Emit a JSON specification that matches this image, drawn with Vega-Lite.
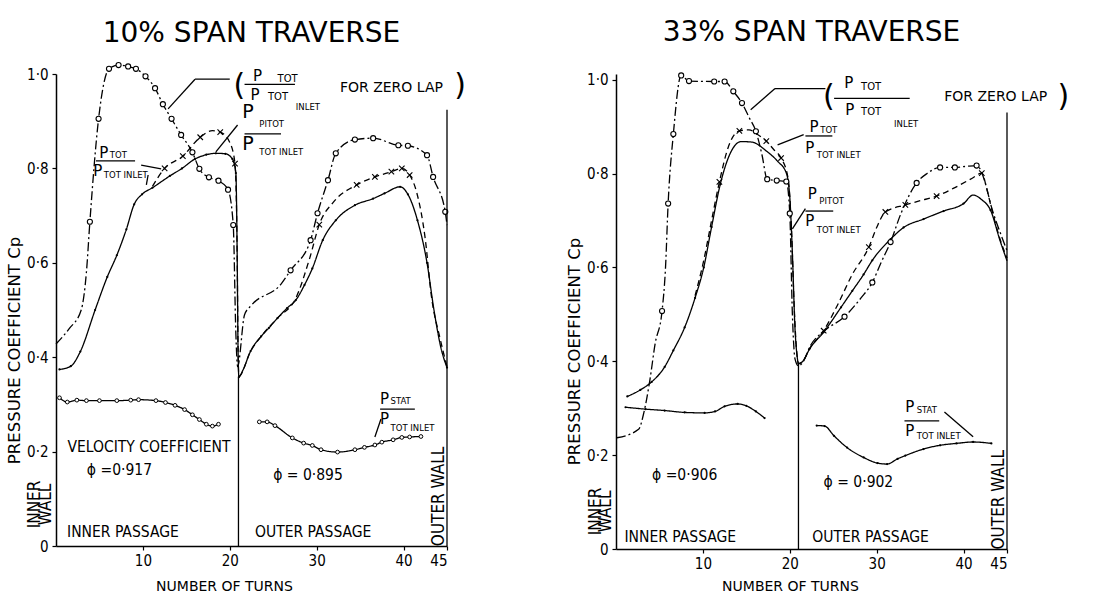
{
  "$schema": "https://vega.github.io/schema/vega-lite/v6.json",
  "background": "white",
  "padding": {"left": 6, "top": 18, "right": 5, "bottom": 5},
  "config": {
    "view": {"stroke": null},
    "font": "DejaVu Sans",
    "axis": {"domainColor": "black", "domainWidth": 1.5, "tickColor": "black", "tickWidth": 1.2, "tickSize": 4, "grid": false, "labelColor": "black", "labelFontSize": 15, "titleColor": "black", "titleFontWeight": "normal", "labelFont": "DejaVu Sans Condensed, DejaVu Sans", "titleFont": "DejaVu Sans"},
    "axisX": {"titleFontSize": 14},
    "axisY": {"titleFontSize": 16.5},
    "title": {"fontSize": 28, "fontWeight": "normal", "color": "black", "font": "DejaVu Sans"}
  },
  "datasets": {
    "curves": [
      {"p":"L","s":"zero","g":"zero","x":0,"y":0.428,"o":0},
      {"p":"L","s":"zero","g":"zero","x":1.5,"y":0.46,"o":0},
      {"p":"L","s":"zero","g":"zero","x":2.9,"y":0.5,"o":0},
      {"p":"L","s":"zero","g":"zero","x":3.5,"y":0.58,"o":0},
      {"p":"L","s":"zero","g":"zero","x":3.9,"y":0.687,"o":1},
      {"p":"L","s":"zero","g":"zero","x":4.9,"y":0.905,"o":1},
      {"p":"L","s":"zero","g":"zero","x":6.1,"y":1.011,"o":1},
      {"p":"L","s":"zero","g":"zero","x":7.2,"y":1.019,"o":1},
      {"p":"L","s":"zero","g":"zero","x":8.3,"y":1.016,"o":1},
      {"p":"L","s":"zero","g":"zero","x":9.2,"y":1.011,"o":1},
      {"p":"L","s":"zero","g":"zero","x":10.3,"y":0.995,"o":1},
      {"p":"L","s":"zero","g":"zero","x":11.4,"y":0.97,"o":1},
      {"p":"L","s":"zero","g":"zero","x":12.3,"y":0.936,"o":1},
      {"p":"L","s":"zero","g":"zero","x":13.3,"y":0.905,"o":1},
      {"p":"L","s":"zero","g":"zero","x":14.4,"y":0.871,"o":1},
      {"p":"L","s":"zero","g":"zero","x":15.7,"y":0.834,"o":1},
      {"p":"L","s":"zero","g":"zero","x":16.5,"y":0.799,"o":1},
      {"p":"L","s":"zero","g":"zero","x":17.6,"y":0.781,"o":1},
      {"p":"L","s":"zero","g":"zero","x":18.7,"y":0.774,"o":1},
      {"p":"L","s":"zero","g":"zero","x":19.8,"y":0.755,"o":1},
      {"p":"L","s":"zero","g":"zero","x":20.4,"y":0.68,"o":1},
      {"p":"L","s":"zero","g":"zero","x":20.7,"y":0.45,"o":0},
      {"p":"L","s":"zero","g":"zero","x":20.9,"y":0.38,"o":0},
      {"p":"L","s":"zero","g":"zero","x":21.7,"y":0.49,"o":0},
      {"p":"L","s":"zero","g":"zero","x":22.5,"y":0.51,"o":0},
      {"p":"L","s":"zero","g":"zero","x":25.9,"y":0.555,"o":0},
      {"p":"L","s":"zero","g":"zero","x":27,"y":0.584,"o":1},
      {"p":"L","s":"zero","g":"zero","x":29.3,"y":0.648,"o":1},
      {"p":"L","s":"zero","g":"zero","x":30.1,"y":0.705,"o":1},
      {"p":"L","s":"zero","g":"zero","x":31.3,"y":0.775,"o":1},
      {"p":"L","s":"zero","g":"zero","x":32.2,"y":0.832,"o":1},
      {"p":"L","s":"zero","g":"zero","x":34.4,"y":0.861,"o":1},
      {"p":"L","s":"zero","g":"zero","x":36.5,"y":0.864,"o":1},
      {"p":"L","s":"zero","g":"zero","x":39.4,"y":0.849,"o":1},
      {"p":"L","s":"zero","g":"zero","x":40.5,"y":0.848,"o":1},
      {"p":"L","s":"zero","g":"zero","x":42.7,"y":0.828,"o":1},
      {"p":"L","s":"zero","g":"zero","x":43.4,"y":0.782,"o":1},
      {"p":"L","s":"zero","g":"zero","x":44.8,"y":0.708,"o":1},
      {"p":"L","s":"zero","g":"zero","x":45,"y":0.68,"o":0},

      {"p":"L","s":"pitot","g":"pitot","x":11.1,"y":0.762,"o":0},
      {"p":"L","s":"pitot","g":"pitot","x":12.5,"y":0.8,"o":1},
      {"p":"L","s":"pitot","g":"pitot","x":14.6,"y":0.826,"o":1},
      {"p":"L","s":"pitot","g":"pitot","x":16.6,"y":0.866,"o":1},
      {"p":"L","s":"pitot","g":"pitot","x":18.0,"y":0.88,"o":0},
      {"p":"L","s":"pitot","g":"pitot","x":18.9,"y":0.877,"o":1},
      {"p":"L","s":"pitot","g":"pitot","x":20.0,"y":0.855,"o":0},
      {"p":"L","s":"pitot","g":"pitot","x":20.6,"y":0.81,"o":1},
      {"p":"L","s":"pitot","g":"pitot","x":20.85,"y":0.62,"o":0},
      {"p":"L","s":"pitot","g":"pitot","x":20.95,"y":0.42,"o":0},
      {"p":"L","s":"pitot","g":"pitot","x":21.05,"y":0.36,"o":0},
      {"p":"L","s":"pitot","g":"pitot","x":22.4,"y":0.413,"o":0},
      {"p":"L","s":"pitot","g":"pitot","x":23.6,"y":0.444,"o":0},
      {"p":"L","s":"pitot","g":"pitot","x":25.5,"y":0.483,"o":0},
      {"p":"L","s":"pitot","g":"pitot","x":27.6,"y":0.525,"o":0},
      {"p":"L","s":"pitot","g":"pitot","x":29.2,"y":0.61,"o":0},
      {"p":"L","s":"pitot","g":"pitot","x":30.3,"y":0.681,"o":1},
      {"p":"L","s":"pitot","g":"pitot","x":32,"y":0.73,"o":0},
      {"p":"L","s":"pitot","g":"pitot","x":34.6,"y":0.765,"o":1},
      {"p":"L","s":"pitot","g":"pitot","x":36.7,"y":0.782,"o":1},
      {"p":"L","s":"pitot","g":"pitot","x":38.6,"y":0.793,"o":1},
      {"p":"L","s":"pitot","g":"pitot","x":39.8,"y":0.8,"o":1},
      {"p":"L","s":"pitot","g":"pitot","x":40.7,"y":0.786,"o":1},
      {"p":"L","s":"pitot","g":"pitot","x":41.5,"y":0.75,"o":0},
      {"p":"L","s":"pitot","g":"pitot","x":42.5,"y":0.65,"o":0},
      {"p":"L","s":"pitot","g":"pitot","x":43.2,"y":0.53,"o":0},
      {"p":"L","s":"pitot","g":"pitot","x":44.2,"y":0.44,"o":0},
      {"p":"L","s":"pitot","g":"pitot","x":45,"y":0.38,"o":0},

      {"p":"L","s":"tot","g":"tot","x":0.4,"y":0.374,"o":1},
      {"p":"L","s":"tot","g":"tot","x":1.7,"y":0.381,"o":1},
      {"p":"L","s":"tot","g":"tot","x":2.8,"y":0.412,"o":1},
      {"p":"L","s":"tot","g":"tot","x":4.5,"y":0.5,"o":1},
      {"p":"L","s":"tot","g":"tot","x":5.9,"y":0.57,"o":1},
      {"p":"L","s":"tot","g":"tot","x":7.0,"y":0.616,"o":1},
      {"p":"L","s":"tot","g":"tot","x":8.1,"y":0.671,"o":1},
      {"p":"L","s":"tot","g":"tot","x":9.0,"y":0.724,"o":1},
      {"p":"L","s":"tot","g":"tot","x":9.9,"y":0.745,"o":1},
      {"p":"L","s":"tot","g":"tot","x":11.1,"y":0.759,"o":1},
      {"p":"L","s":"tot","g":"tot","x":13.1,"y":0.784,"o":1},
      {"p":"L","s":"tot","g":"tot","x":14.5,"y":0.8,"o":1},
      {"p":"L","s":"tot","g":"tot","x":16.0,"y":0.82,"o":1},
      {"p":"L","s":"tot","g":"tot","x":17.3,"y":0.829,"o":1},
      {"p":"L","s":"tot","g":"tot","x":18.4,"y":0.832,"o":1},
      {"p":"L","s":"tot","g":"tot","x":19.5,"y":0.831,"o":1},
      {"p":"L","s":"tot","g":"tot","x":20.3,"y":0.82,"o":1},
      {"p":"L","s":"tot","g":"tot","x":20.7,"y":0.79,"o":1},
      {"p":"L","s":"tot","g":"tot","x":20.85,"y":0.62,"o":0},
      {"p":"L","s":"tot","g":"tot","x":20.95,"y":0.42,"o":0},
      {"p":"L","s":"tot","g":"tot","x":21.05,"y":0.358,"o":1},
      {"p":"L","s":"tot","g":"tot","x":21.5,"y":0.372,"o":0},
      {"p":"L","s":"tot","g":"tot","x":22.4,"y":0.413,"o":1},
      {"p":"L","s":"tot","g":"tot","x":23.6,"y":0.444,"o":1},
      {"p":"L","s":"tot","g":"tot","x":24.5,"y":0.462,"o":1},
      {"p":"L","s":"tot","g":"tot","x":25.5,"y":0.483,"o":1},
      {"p":"L","s":"tot","g":"tot","x":26.6,"y":0.504,"o":1},
      {"p":"L","s":"tot","g":"tot","x":27.6,"y":0.521,"o":1},
      {"p":"L","s":"tot","g":"tot","x":28.6,"y":0.553,"o":1},
      {"p":"L","s":"tot","g":"tot","x":29.5,"y":0.588,"o":1},
      {"p":"L","s":"tot","g":"tot","x":30.7,"y":0.648,"o":1},
      {"p":"L","s":"tot","g":"tot","x":32.2,"y":0.69,"o":1},
      {"p":"L","s":"tot","g":"tot","x":34.4,"y":0.722,"o":1},
      {"p":"L","s":"tot","g":"tot","x":36.5,"y":0.736,"o":1},
      {"p":"L","s":"tot","g":"tot","x":37.8,"y":0.747,"o":1},
      {"p":"L","s":"tot","g":"tot","x":39.6,"y":0.761,"o":1},
      {"p":"L","s":"tot","g":"tot","x":40.5,"y":0.745,"o":1},
      {"p":"L","s":"tot","g":"tot","x":41.6,"y":0.69,"o":1},
      {"p":"L","s":"tot","g":"tot","x":42.7,"y":0.6,"o":1},
      {"p":"L","s":"tot","g":"tot","x":43.5,"y":0.5,"o":0},
      {"p":"L","s":"tot","g":"tot","x":44.3,"y":0.42,"o":0},
      {"p":"L","s":"tot","g":"tot","x":45,"y":0.378,"o":1},

      {"p":"L","s":"stat","g":"stat_in","x":0.4,"y":0.314,"o":1},
      {"p":"L","s":"stat","g":"stat_in","x":1.3,"y":0.305,"o":1},
      {"p":"L","s":"stat","g":"stat_in","x":2.4,"y":0.309,"o":1},
      {"p":"L","s":"stat","g":"stat_in","x":3.5,"y":0.308,"o":1},
      {"p":"L","s":"stat","g":"stat_in","x":5,"y":0.308,"o":1},
      {"p":"L","s":"stat","g":"stat_in","x":7,"y":0.308,"o":1},
      {"p":"L","s":"stat","g":"stat_in","x":8.6,"y":0.309,"o":1},
      {"p":"L","s":"stat","g":"stat_in","x":9.5,"y":0.31,"o":1},
      {"p":"L","s":"stat","g":"stat_in","x":11.5,"y":0.308,"o":1},
      {"p":"L","s":"stat","g":"stat_in","x":12.6,"y":0.304,"o":1},
      {"p":"L","s":"stat","g":"stat_in","x":13.7,"y":0.298,"o":1},
      {"p":"L","s":"stat","g":"stat_in","x":14.8,"y":0.289,"o":1},
      {"p":"L","s":"stat","g":"stat_in","x":15.7,"y":0.278,"o":1},
      {"p":"L","s":"stat","g":"stat_in","x":16.5,"y":0.268,"o":1},
      {"p":"L","s":"stat","g":"stat_in","x":17.3,"y":0.258,"o":1},
      {"p":"L","s":"stat","g":"stat_in","x":18,"y":0.254,"o":1},
      {"p":"L","s":"stat","g":"stat_in","x":18.7,"y":0.258,"o":1},
      {"p":"L","s":"stat","g":"stat_out","x":23.4,"y":0.263,"o":1},
      {"p":"L","s":"stat","g":"stat_out","x":24.3,"y":0.263,"o":1},
      {"p":"L","s":"stat","g":"stat_out","x":25.2,"y":0.255,"o":1},
      {"p":"L","s":"stat","g":"stat_out","x":27.2,"y":0.229,"o":1},
      {"p":"L","s":"stat","g":"stat_out","x":28.5,"y":0.218,"o":1},
      {"p":"L","s":"stat","g":"stat_out","x":29.5,"y":0.213,"o":1},
      {"p":"L","s":"stat","g":"stat_out","x":30.5,"y":0.204,"o":1},
      {"p":"L","s":"stat","g":"stat_out","x":32.4,"y":0.199,"o":1},
      {"p":"L","s":"stat","g":"stat_out","x":34.4,"y":0.204,"o":1},
      {"p":"L","s":"stat","g":"stat_out","x":35.5,"y":0.209,"o":1},
      {"p":"L","s":"stat","g":"stat_out","x":36.7,"y":0.214,"o":1},
      {"p":"L","s":"stat","g":"stat_out","x":37.5,"y":0.22,"o":1},
      {"p":"L","s":"stat","g":"stat_out","x":38.8,"y":0.225,"o":1},
      {"p":"L","s":"stat","g":"stat_out","x":39.8,"y":0.23,"o":1},
      {"p":"L","s":"stat","g":"stat_out","x":40.7,"y":0.231,"o":1},
      {"p":"L","s":"stat","g":"stat_out","x":42,"y":0.232,"o":1},

      {"p":"R","s":"zero","g":"zero","x":0.1,"y":0.237,"o":0},
      {"p":"R","s":"zero","g":"zero","x":2.6,"y":0.255,"o":0},
      {"p":"R","s":"zero","g":"zero","x":3.2,"y":0.29,"o":0},
      {"p":"R","s":"zero","g":"zero","x":3.9,"y":0.36,"o":0},
      {"p":"R","s":"zero","g":"zero","x":4.5,"y":0.437,"o":0},
      {"p":"R","s":"zero","g":"zero","x":5.3,"y":0.507,"o":1},
      {"p":"R","s":"zero","g":"zero","x":5.7,"y":0.6,"o":0},
      {"p":"R","s":"zero","g":"zero","x":6.0,"y":0.736,"o":1},
      {"p":"R","s":"zero","g":"zero","x":6.6,"y":0.884,"o":1},
      {"p":"R","s":"zero","g":"zero","x":7.5,"y":1.009,"o":1},
      {"p":"R","s":"zero","g":"zero","x":8.4,"y":0.997,"o":1},
      {"p":"R","s":"zero","g":"zero","x":11.3,"y":0.996,"o":1},
      {"p":"R","s":"zero","g":"zero","x":12.5,"y":0.996,"o":1},
      {"p":"R","s":"zero","g":"zero","x":13.5,"y":0.975,"o":1},
      {"p":"R","s":"zero","g":"zero","x":14.5,"y":0.95,"o":1},
      {"p":"R","s":"zero","g":"zero","x":15.3,"y":0.92,"o":0},
      {"p":"R","s":"zero","g":"zero","x":16.1,"y":0.89,"o":1},
      {"p":"R","s":"zero","g":"zero","x":16.8,"y":0.84,"o":0},
      {"p":"R","s":"zero","g":"zero","x":17.4,"y":0.788,"o":1},
      {"p":"R","s":"zero","g":"zero","x":18.5,"y":0.785,"o":1},
      {"p":"R","s":"zero","g":"zero","x":19.6,"y":0.783,"o":1},
      {"p":"R","s":"zero","g":"zero","x":20.0,"y":0.715,"o":1},
      {"p":"R","s":"zero","g":"zero","x":20.3,"y":0.5,"o":0},
      {"p":"R","s":"zero","g":"zero","x":20.6,"y":0.405,"o":0},
      {"p":"R","s":"zero","g":"zero","x":21.0,"y":0.39,"o":0},
      {"p":"R","s":"zero","g":"zero","x":21.5,"y":0.398,"o":0},
      {"p":"R","s":"zero","g":"zero","x":22.4,"y":0.434,"o":0},
      {"p":"R","s":"zero","g":"zero","x":24,"y":0.465,"o":0},
      {"p":"R","s":"zero","g":"zero","x":26.3,"y":0.495,"o":1},
      {"p":"R","s":"zero","g":"zero","x":28.2,"y":0.535,"o":0},
      {"p":"R","s":"zero","g":"zero","x":29.5,"y":0.568,"o":1},
      {"p":"R","s":"zero","g":"zero","x":30.5,"y":0.61,"o":0},
      {"p":"R","s":"zero","g":"zero","x":31.6,"y":0.654,"o":1},
      {"p":"R","s":"zero","g":"zero","x":32.8,"y":0.715,"o":0},
      {"p":"R","s":"zero","g":"zero","x":34.6,"y":0.78,"o":1},
      {"p":"R","s":"zero","g":"zero","x":35.8,"y":0.8,"o":0},
      {"p":"R","s":"zero","g":"zero","x":37.3,"y":0.813,"o":1},
      {"p":"R","s":"zero","g":"zero","x":39,"y":0.813,"o":1},
      {"p":"R","s":"zero","g":"zero","x":40.2,"y":0.815,"o":0},
      {"p":"R","s":"zero","g":"zero","x":41.5,"y":0.817,"o":1},
      {"p":"R","s":"zero","g":"zero","x":42.5,"y":0.78,"o":0},
      {"p":"R","s":"zero","g":"zero","x":43.1,"y":0.736,"o":0},
      {"p":"R","s":"zero","g":"zero","x":44.4,"y":0.665,"o":0},
      {"p":"R","s":"zero","g":"zero","x":45,"y":0.636,"o":0},

      {"p":"R","s":"pitot","g":"pitot","x":9.1,"y":0.54,"o":0},
      {"p":"R","s":"pitot","g":"pitot","x":10.1,"y":0.615,"o":0},
      {"p":"R","s":"pitot","g":"pitot","x":11.0,"y":0.7,"o":0},
      {"p":"R","s":"pitot","g":"pitot","x":11.9,"y":0.782,"o":1},
      {"p":"R","s":"pitot","g":"pitot","x":12.9,"y":0.855,"o":0},
      {"p":"R","s":"pitot","g":"pitot","x":14.2,"y":0.891,"o":1},
      {"p":"R","s":"pitot","g":"pitot","x":15.3,"y":0.893,"o":0},
      {"p":"R","s":"pitot","g":"pitot","x":16.3,"y":0.883,"o":0},
      {"p":"R","s":"pitot","g":"pitot","x":17.3,"y":0.869,"o":1},
      {"p":"R","s":"pitot","g":"pitot","x":18.2,"y":0.85,"o":0},
      {"p":"R","s":"pitot","g":"pitot","x":19.0,"y":0.833,"o":1},
      {"p":"R","s":"pitot","g":"pitot","x":19.8,"y":0.79,"o":0},
      {"p":"R","s":"pitot","g":"pitot","x":20.2,"y":0.68,"o":0},
      {"p":"R","s":"pitot","g":"pitot","x":20.5,"y":0.52,"o":0},
      {"p":"R","s":"pitot","g":"pitot","x":20.8,"y":0.42,"o":0},
      {"p":"R","s":"pitot","g":"pitot","x":21.0,"y":0.395,"o":0},
      {"p":"R","s":"pitot","g":"pitot","x":21.5,"y":0.4,"o":0},
      {"p":"R","s":"pitot","g":"pitot","x":22.3,"y":0.427,"o":0},
      {"p":"R","s":"pitot","g":"pitot","x":23.9,"y":0.465,"o":1},
      {"p":"R","s":"pitot","g":"pitot","x":25.5,"y":0.52,"o":0},
      {"p":"R","s":"pitot","g":"pitot","x":27.2,"y":0.585,"o":0},
      {"p":"R","s":"pitot","g":"pitot","x":29.1,"y":0.643,"o":1},
      {"p":"R","s":"pitot","g":"pitot","x":30.0,"y":0.685,"o":0},
      {"p":"R","s":"pitot","g":"pitot","x":31.0,"y":0.718,"o":1},
      {"p":"R","s":"pitot","g":"pitot","x":33.3,"y":0.733,"o":1},
      {"p":"R","s":"pitot","g":"pitot","x":35,"y":0.742,"o":0},
      {"p":"R","s":"pitot","g":"pitot","x":36.9,"y":0.752,"o":1},
      {"p":"R","s":"pitot","g":"pitot","x":39,"y":0.77,"o":0},
      {"p":"R","s":"pitot","g":"pitot","x":41,"y":0.79,"o":0},
      {"p":"R","s":"pitot","g":"pitot","x":42.1,"y":0.801,"o":1},
      {"p":"R","s":"pitot","g":"pitot","x":42.7,"y":0.765,"o":0},
      {"p":"R","s":"pitot","g":"pitot","x":43.3,"y":0.72,"o":0},
      {"p":"R","s":"pitot","g":"pitot","x":44.2,"y":0.66,"o":0},
      {"p":"R","s":"pitot","g":"pitot","x":45,"y":0.62,"o":0},

      {"p":"R","s":"tot","g":"tot","x":1.3,"y":0.325,"o":1},
      {"p":"R","s":"tot","g":"tot","x":2.8,"y":0.339,"o":1},
      {"p":"R","s":"tot","g":"tot","x":4.1,"y":0.356,"o":1},
      {"p":"R","s":"tot","g":"tot","x":5.6,"y":0.388,"o":1},
      {"p":"R","s":"tot","g":"tot","x":6.6,"y":0.423,"o":1},
      {"p":"R","s":"tot","g":"tot","x":7.9,"y":0.472,"o":1},
      {"p":"R","s":"tot","g":"tot","x":9.1,"y":0.535,"o":1},
      {"p":"R","s":"tot","g":"tot","x":10.1,"y":0.6,"o":1},
      {"p":"R","s":"tot","g":"tot","x":11.0,"y":0.686,"o":1},
      {"p":"R","s":"tot","g":"tot","x":12.0,"y":0.777,"o":1},
      {"p":"R","s":"tot","g":"tot","x":13.1,"y":0.841,"o":0},
      {"p":"R","s":"tot","g":"tot","x":14.4,"y":0.868,"o":0},
      {"p":"R","s":"tot","g":"tot","x":15.6,"y":0.867,"o":0},
      {"p":"R","s":"tot","g":"tot","x":17.3,"y":0.848,"o":0},
      {"p":"R","s":"tot","g":"tot","x":18.6,"y":0.826,"o":0},
      {"p":"R","s":"tot","g":"tot","x":19.6,"y":0.801,"o":0},
      {"p":"R","s":"tot","g":"tot","x":20.0,"y":0.75,"o":0},
      {"p":"R","s":"tot","g":"tot","x":20.3,"y":0.63,"o":0},
      {"p":"R","s":"tot","g":"tot","x":20.6,"y":0.47,"o":0},
      {"p":"R","s":"tot","g":"tot","x":20.85,"y":0.41,"o":0},
      {"p":"R","s":"tot","g":"tot","x":21.0,"y":0.395,"o":1},
      {"p":"R","s":"tot","g":"tot","x":21.5,"y":0.4,"o":0},
      {"p":"R","s":"tot","g":"tot","x":22.3,"y":0.427,"o":1},
      {"p":"R","s":"tot","g":"tot","x":23.9,"y":0.462,"o":1},
      {"p":"R","s":"tot","g":"tot","x":25.9,"y":0.515,"o":1},
      {"p":"R","s":"tot","g":"tot","x":27.2,"y":0.55,"o":1},
      {"p":"R","s":"tot","g":"tot","x":28.5,"y":0.585,"o":1},
      {"p":"R","s":"tot","g":"tot","x":29.5,"y":0.615,"o":1},
      {"p":"R","s":"tot","g":"tot","x":31.6,"y":0.66,"o":1},
      {"p":"R","s":"tot","g":"tot","x":33.1,"y":0.685,"o":1},
      {"p":"R","s":"tot","g":"tot","x":35.4,"y":0.703,"o":1},
      {"p":"R","s":"tot","g":"tot","x":37.7,"y":0.72,"o":1},
      {"p":"R","s":"tot","g":"tot","x":40,"y":0.736,"o":1},
      {"p":"R","s":"tot","g":"tot","x":41.1,"y":0.754,"o":0},
      {"p":"R","s":"tot","g":"tot","x":42.1,"y":0.744,"o":0},
      {"p":"R","s":"tot","g":"tot","x":43.1,"y":0.722,"o":1},
      {"p":"R","s":"tot","g":"tot","x":44.2,"y":0.657,"o":0},
      {"p":"R","s":"tot","g":"tot","x":45,"y":0.614,"o":0},

      {"p":"R","s":"stat","g":"stat_in","x":1.1,"y":0.302,"o":1},
      {"p":"R","s":"stat","g":"stat_in","x":3.4,"y":0.298,"o":1},
      {"p":"R","s":"stat","g":"stat_in","x":5.6,"y":0.295,"o":1},
      {"p":"R","s":"stat","g":"stat_in","x":7.9,"y":0.291,"o":1},
      {"p":"R","s":"stat","g":"stat_in","x":10.2,"y":0.29,"o":1},
      {"p":"R","s":"stat","g":"stat_in","x":11.4,"y":0.293,"o":1},
      {"p":"R","s":"stat","g":"stat_in","x":12.5,"y":0.304,"o":1},
      {"p":"R","s":"stat","g":"stat_in","x":14.0,"y":0.309,"o":1},
      {"p":"R","s":"stat","g":"stat_in","x":15.0,"y":0.305,"o":1},
      {"p":"R","s":"stat","g":"stat_in","x":16.1,"y":0.293,"o":1},
      {"p":"R","s":"stat","g":"stat_in","x":17.1,"y":0.279,"o":1},
      {"p":"R","s":"stat","g":"stat_out","x":23.1,"y":0.263,"o":1},
      {"p":"R","s":"stat","g":"stat_out","x":24.0,"y":0.262,"o":1},
      {"p":"R","s":"stat","g":"stat_out","x":25.1,"y":0.241,"o":1},
      {"p":"R","s":"stat","g":"stat_out","x":26.6,"y":0.216,"o":1},
      {"p":"R","s":"stat","g":"stat_out","x":28.5,"y":0.195,"o":1},
      {"p":"R","s":"stat","g":"stat_out","x":30.1,"y":0.183,"o":1},
      {"p":"R","s":"stat","g":"stat_out","x":31.2,"y":0.181,"o":1},
      {"p":"R","s":"stat","g":"stat_out","x":32.4,"y":0.192,"o":1},
      {"p":"R","s":"stat","g":"stat_out","x":33.3,"y":0.199,"o":1},
      {"p":"R","s":"stat","g":"stat_out","x":35.4,"y":0.213,"o":1},
      {"p":"R","s":"stat","g":"stat_out","x":37.3,"y":0.221,"o":1},
      {"p":"R","s":"stat","g":"stat_out","x":39.2,"y":0.225,"o":1},
      {"p":"R","s":"stat","g":"stat_out","x":41.1,"y":0.228,"o":1},
      {"p":"R","s":"stat","g":"stat_out","x":43.2,"y":0.225,"o":1}
    ],
    "segs": [
      {"p":"L","x":21,"y":0,"x2":21,"y2":0.358},
      {"p":"L","x":45,"y":0,"x2":45,"y2":0.924},
      {"p":"L","x":21.7,"y":0.978,"x2":27.5,"y2":0.978},
      {"p":"L","x":21.7,"y":0.873,"x2":25.9,"y2":0.873},
      {"p":"L","x":4.6,"y":0.816,"x2":9.1,"y2":0.816},
      {"p":"L","x":37.3,"y":0.29,"x2":41.3,"y2":0.29},
      {"p":"L","x":20,"y":0.989,"x2":16,"y2":0.989},
      {"p":"L","x":16,"y":0.989,"x2":12.9,"y2":0.926},
      {"p":"L","x":20.9,"y":0.892,"x2":18.4,"y2":0.835},
      {"p":"L","x":9.8,"y":0.807,"x2":12.1,"y2":0.799},
      {"p":"L","x":10.6,"y":0.786,"x2":10.4,"y2":0.765},
      {"p":"L","x":37.4,"y":0.269,"x2":36.7,"y2":0.231},
      {"p":"R","x":21,"y":0,"x2":21,"y2":0.395},
      {"p":"R","x":45,"y":0,"x2":45,"y2":0.93},
      {"p":"R","x":25.1,"y":0.96,"x2":33.8,"y2":0.96},
      {"p":"R","x":21.8,"y":0.88,"x2":24.9,"y2":0.88},
      {"p":"R","x":21.8,"y":0.72,"x2":25,"y2":0.72},
      {"p":"R","x":33.2,"y":0.273,"x2":37.2,"y2":0.273},
      {"p":"R","x":24.1,"y":0.981,"x2":18.3,"y2":0.981},
      {"p":"R","x":18.3,"y":0.981,"x2":15.5,"y2":0.936},
      {"p":"R","x":21.6,"y":0.883,"x2":18.6,"y2":0.861},
      {"p":"R","x":21.8,"y":0.725,"x2":20.3,"y2":0.682},
      {"p":"R","x":37.8,"y":0.292,"x2":41.1,"y2":0.239}
    ],
    "notes": [
      {"p":"L","k":"note","x":10.7,"y":0.21,"t":"VELOCITY COEFFICIENT"},
      {"p":"L","k":"note","x":7.3,"y":0.16,"t":"ϕ =0·917"},
      {"p":"L","k":"note","x":29,"y":0.15,"t":"ϕ = 0·895"},
      {"p":"L","k":"note","x":7.7,"y":0.03,"t":"INNER PASSAGE"},
      {"p":"L","k":"note","x":29.6,"y":0.03,"t":"OUTER PASSAGE"},
      {"p":"L","k":"small","x":38.6,"y":0.97,"t":"FOR ZERO LAP"},
      {"p":"L","k":"paren","x":21.1,"y":0.975,"t":"("},
      {"p":"L","k":"paren","x":46.5,"y":0.975,"t":")"},
      {"p":"L","k":"P","x":23.2,"y":0.996,"t":"P"},
      {"p":"L","k":"P","x":22.9,"y":0.955,"t":"P"},
      {"p":"L","k":"bigP","x":22.1,"y":0.919,"t":"P"},
      {"p":"L","k":"bigP","x":22.1,"y":0.852,"t":"P"},
      {"p":"L","k":"P","x":5.5,"y":0.833,"t":"P"},
      {"p":"L","k":"P","x":4.8,"y":0.794,"t":"P"},
      {"p":"L","k":"P","x":37.8,"y":0.312,"t":"P"},
      {"p":"L","k":"P","x":37.8,"y":0.269,"t":"P"},
      {"p":"L","k":"subL","x":25.5,"y":0.989,"t":"TOT"},
      {"p":"L","k":"subL","x":24.4,"y":0.951,"t":"TOT"},
      {"p":"L","k":"sub","x":27.6,"y":0.93,"t":"INLET"},
      {"p":"L","k":"sub","x":23.4,"y":0.895,"t":"PITOT"},
      {"p":"L","k":"sub","x":23.4,"y":0.835,"t":"TOT INLET"},
      {"p":"L","k":"sub","x":6.2,"y":0.828,"t":"TOT"},
      {"p":"L","k":"sub","x":5.5,"y":0.787,"t":"TOT INLET"},
      {"p":"L","k":"sub","x":38.5,"y":0.307,"t":"STAT"},
      {"p":"L","k":"sub","x":38.5,"y":0.251,"t":"TOT INLET"},
      {"p":"L","k":"wall","x":-2.4,"y":0.088,"t":"INNER"},
      {"p":"L","k":"wall","x":-1.2,"y":0.088,"t":"WALL"},
      {"p":"L","k":"wall","x":44.1,"y":0.105,"t":"OUTER WALL"},
      {"p":"R","k":"note","x":7.9,"y":0.158,"t":"ϕ =0·906"},
      {"p":"R","k":"note","x":27.9,"y":0.143,"t":"ϕ = 0·902"},
      {"p":"R","k":"note","x":7.4,"y":0.025,"t":"INNER PASSAGE"},
      {"p":"R","k":"note","x":29.3,"y":0.025,"t":"OUTER PASSAGE"},
      {"p":"R","k":"small","x":43.7,"y":0.962,"t":"FOR ZERO LAP"},
      {"p":"R","k":"paren","x":24.5,"y":0.962,"t":"("},
      {"p":"R","k":"paren","x":51.5,"y":0.962,"t":")"},
      {"p":"R","k":"P","x":26.8,"y":0.992,"t":"P"},
      {"p":"R","k":"P","x":26.9,"y":0.936,"t":"P"},
      {"p":"R","k":"P","x":22.8,"y":0.9,"t":"P"},
      {"p":"R","k":"P","x":22.3,"y":0.855,"t":"P"},
      {"p":"R","k":"P","x":22.6,"y":0.757,"t":"P"},
      {"p":"R","k":"P","x":22.3,"y":0.699,"t":"P"},
      {"p":"R","k":"P","x":33.8,"y":0.303,"t":"P"},
      {"p":"R","k":"P","x":33.8,"y":0.251,"t":"P"},
      {"p":"R","k":"subL","x":28.2,"y":0.985,"t":"TOT"},
      {"p":"R","k":"subL","x":28.2,"y":0.932,"t":"TOT"},
      {"p":"R","k":"sub","x":32.0,"y":0.906,"t":"INLET"},
      {"p":"R","k":"sub","x":23.5,"y":0.893,"t":"TOT"},
      {"p":"R","k":"sub","x":23.1,"y":0.84,"t":"TOT INLET"},
      {"p":"R","k":"sub","x":23.4,"y":0.742,"t":"PITOT"},
      {"p":"R","k":"sub","x":23.1,"y":0.679,"t":"TOT INLET"},
      {"p":"R","k":"sub","x":34.6,"y":0.297,"t":"STAT"},
      {"p":"R","k":"sub","x":34.6,"y":0.241,"t":"TOT INLET"},
      {"p":"R","k":"wall","x":-2.3,"y":0.08,"t":"INNER"},
      {"p":"R","k":"wall","x":-1.1,"y":0.08,"t":"WALL"},
      {"p":"R","k":"wall","x":44.1,"y":0.105,"t":"OUTER WALL"}
    ]
  },
  "spacing": 169,
  "bounds": "flush",
  "hconcat": [
    {
      "width": 391,
      "height": 472,
      "title": {"text": "10% SPAN TRAVERSE", "offset": 12, "frame": "group"},
      "encoding": {
        "x": {"field": "x", "type": "quantitative", "scale": {"domain": [0, 45], "nice": false, "zero": false}, "axis": {"values": [10, 20, 30, 40, 45], "title": "NUMBER OF TURNS", "titleX": 168, "titleY": 33, "labelPadding": 3}},
        "y": {"field": "y", "type": "quantitative", "scale": {"domain": [0, 1], "nice": false}, "axis": {"values": [0, 0.2, 0.4, 0.6, 0.8, 1], "labelExpr": "datum.value == 0 ? '0' : replace(format(datum.value, '.1f'), '.', '·')", "title": "PRESSURE COEFFICIENT Cp", "titleY": 276, "titlePadding": 4, "labelPadding": 4}}
      },
      "layer": [
        {"data": {"name": "curves"}, "transform": [{"filter": "datum.p == 'L'"}],
         "mark": {"type": "line", "interpolate": "monotone", "color": "black", "strokeWidth": 1.3},
         "encoding": {"detail": {"field": "g"}, "strokeDash": {"field": "s", "type": "nominal", "scale": {"domain": ["zero", "pitot", "tot", "stat"], "range": [[9, 3, 2, 3], [6, 4], [1, 0], [1, 0]]}, "legend": null}}},
        {"data": {"name": "curves"}, "transform": [{"filter": "datum.p == 'L' && datum.o == 1 && datum.s == 'zero'"}],
         "mark": {"type": "point", "shape": "circle", "size": 26, "filled": true, "fill": "white", "stroke": "black", "strokeWidth": 1.1, "opacity": 1}},
        {"data": {"name": "curves"}, "transform": [{"filter": "datum.p == 'L' && datum.o == 1 && datum.s == 'pitot'"}],
         "mark": {"type": "point", "shape": "M-1,-1L1,1M-1,1L1,-1", "size": 30, "filled": false, "stroke": "black", "strokeWidth": 1.1, "opacity": 1}},
        {"data": {"name": "curves"}, "transform": [{"filter": "datum.p == 'L' && datum.o == 1 && datum.s == 'tot'"}],
         "mark": {"type": "point", "shape": "circle", "size": 5, "filled": true, "color": "black", "opacity": 1}},
        {"data": {"name": "curves"}, "transform": [{"filter": "datum.p == 'L' && datum.o == 1 && datum.s == 'stat'"}],
         "mark": {"type": "point", "shape": "circle", "size": 14, "filled": true, "fill": "white", "stroke": "black", "strokeWidth": 1, "opacity": 1}},
        {"data": {"name": "segs"}, "transform": [{"filter": "datum.p == 'L'"}],
         "mark": {"type": "rule", "color": "black", "strokeWidth": 1.3},
         "encoding": {"x2": {"field": "x2"}, "y2": {"field": "y2"}}},
        {"data": {"name": "notes"}, "transform": [{"filter": "datum.p == 'L' && datum.k == 'note'"}],
         "mark": {"type": "text", "align": "center", "baseline": "middle", "color": "black", "fontSize": 15.5, "font": "DejaVu Sans Condensed, DejaVu Sans"},
         "encoding": {"text": {"field": "t"}}},
        {"data": {"name": "notes"}, "transform": [{"filter": "datum.p == 'L' && datum.k == 'small'"}],
         "mark": {"type": "text", "align": "center", "baseline": "middle", "color": "black", "fontSize": 14, "font": "DejaVu Sans"},
         "encoding": {"text": {"field": "t"}}},
        {"data": {"name": "notes"}, "transform": [{"filter": "datum.p == 'L' && datum.k == 'P'"}],
         "mark": {"type": "text", "align": "center", "baseline": "middle", "color": "black", "fontSize": 15, "font": "DejaVu Sans"},
         "encoding": {"text": {"field": "t"}}},
        {"data": {"name": "notes"}, "transform": [{"filter": "datum.p == 'L' && datum.k == 'bigP'"}],
         "mark": {"type": "text", "align": "center", "baseline": "middle", "color": "black", "fontSize": 19, "font": "DejaVu Sans"},
         "encoding": {"text": {"field": "t"}}},
        {"data": {"name": "notes"}, "transform": [{"filter": "datum.p == 'L' && datum.k == 'paren'"}],
         "mark": {"type": "text", "align": "center", "baseline": "middle", "color": "black", "fontSize": 30, "font": "DejaVu Sans"},
         "encoding": {"text": {"field": "t"}}},
        {"data": {"name": "notes"}, "transform": [{"filter": "datum.p == 'L' && datum.k == 'sub'"}],
         "mark": {"type": "text", "align": "left", "baseline": "middle", "color": "black", "fontSize": 8.5, "font": "DejaVu Sans"},
         "encoding": {"text": {"field": "t"}}},
        {"data": {"name": "notes"}, "transform": [{"filter": "datum.p == 'L' && datum.k == 'subL'"}],
         "mark": {"type": "text", "align": "left", "baseline": "middle", "color": "black", "fontSize": 10, "font": "DejaVu Sans"},
         "encoding": {"text": {"field": "t"}}},
        {"data": {"name": "notes"}, "transform": [{"filter": "datum.p == 'L' && datum.k == 'wall'"}],
         "mark": {"type": "text", "align": "center", "baseline": "middle", "angle": 270, "color": "black", "fontSize": 17, "font": "DejaVu Sans Condensed, DejaVu Sans"},
         "encoding": {"text": {"field": "t"}}}
      ]
    },
    {
      "width": 391,
      "height": 475,
      "title": {"text": "33% SPAN TRAVERSE", "offset": 24, "frame": "group"},
      "encoding": {
        "x": {"field": "x", "type": "quantitative", "scale": {"domain": [0, 45], "nice": false, "zero": false}, "axis": {"values": [10, 20, 30, 40, 45], "title": "NUMBER OF TURNS", "titleX": 174, "titleY": 30, "labelPadding": 3}},
        "y": {"field": "y", "type": "quantitative", "scale": {"domain": [0, 1.012], "nice": false}, "axis": {"values": [0, 0.2, 0.4, 0.6, 0.8, 1], "labelExpr": "datum.value == 0 ? '0' : replace(format(datum.value, '.1f'), '.', '·')", "title": "PRESSURE COEFFICIENT Cp", "titleY": 277, "titlePadding": 4, "labelPadding": 4}}
      },
      "layer": [
        {"data": {"name": "curves"}, "transform": [{"filter": "datum.p == 'R'"}],
         "mark": {"type": "line", "interpolate": "monotone", "color": "black", "strokeWidth": 1.3},
         "encoding": {"detail": {"field": "g"}, "strokeDash": {"field": "s", "type": "nominal", "scale": {"domain": ["zero", "pitot", "tot", "stat"], "range": [[9, 3, 2, 3], [6, 4], [1, 0], [1, 0]]}, "legend": null}}},
        {"data": {"name": "curves"}, "transform": [{"filter": "datum.p == 'R' && datum.o == 1 && datum.s == 'zero'"}],
         "mark": {"type": "point", "shape": "circle", "size": 26, "filled": true, "fill": "white", "stroke": "black", "strokeWidth": 1.1, "opacity": 1}},
        {"data": {"name": "curves"}, "transform": [{"filter": "datum.p == 'R' && datum.o == 1 && datum.s == 'pitot'"}],
         "mark": {"type": "point", "shape": "M-1,-1L1,1M-1,1L1,-1", "size": 30, "filled": false, "stroke": "black", "strokeWidth": 1.1, "opacity": 1}},
        {"data": {"name": "curves"}, "transform": [{"filter": "datum.p == 'R' && datum.o == 1 && (datum.s == 'tot' || datum.s == 'stat')"}],
         "mark": {"type": "point", "shape": "circle", "size": 5, "filled": true, "color": "black", "opacity": 1}},
        {"data": {"name": "segs"}, "transform": [{"filter": "datum.p == 'R'"}],
         "mark": {"type": "rule", "color": "black", "strokeWidth": 1.3},
         "encoding": {"x2": {"field": "x2"}, "y2": {"field": "y2"}}},
        {"data": {"name": "notes"}, "transform": [{"filter": "datum.p == 'R' && datum.k == 'note'"}],
         "mark": {"type": "text", "align": "center", "baseline": "middle", "color": "black", "fontSize": 15.5, "font": "DejaVu Sans Condensed, DejaVu Sans"},
         "encoding": {"text": {"field": "t"}}},
        {"data": {"name": "notes"}, "transform": [{"filter": "datum.p == 'R' && datum.k == 'small'"}],
         "mark": {"type": "text", "align": "center", "baseline": "middle", "color": "black", "fontSize": 14, "font": "DejaVu Sans"},
         "encoding": {"text": {"field": "t"}}},
        {"data": {"name": "notes"}, "transform": [{"filter": "datum.p == 'R' && datum.k == 'P'"}],
         "mark": {"type": "text", "align": "center", "baseline": "middle", "color": "black", "fontSize": 15, "font": "DejaVu Sans"},
         "encoding": {"text": {"field": "t"}}},
        {"data": {"name": "notes"}, "transform": [{"filter": "datum.p == 'R' && datum.k == 'paren'"}],
         "mark": {"type": "text", "align": "center", "baseline": "middle", "color": "black", "fontSize": 30, "font": "DejaVu Sans"},
         "encoding": {"text": {"field": "t"}}},
        {"data": {"name": "notes"}, "transform": [{"filter": "datum.p == 'R' && datum.k == 'sub'"}],
         "mark": {"type": "text", "align": "left", "baseline": "middle", "color": "black", "fontSize": 8.5, "font": "DejaVu Sans"},
         "encoding": {"text": {"field": "t"}}},
        {"data": {"name": "notes"}, "transform": [{"filter": "datum.p == 'R' && datum.k == 'subL'"}],
         "mark": {"type": "text", "align": "left", "baseline": "middle", "color": "black", "fontSize": 10, "font": "DejaVu Sans"},
         "encoding": {"text": {"field": "t"}}},
        {"data": {"name": "notes"}, "transform": [{"filter": "datum.p == 'R' && datum.k == 'wall'"}],
         "mark": {"type": "text", "align": "center", "baseline": "middle", "angle": 270, "color": "black", "fontSize": 17, "font": "DejaVu Sans Condensed, DejaVu Sans"},
         "encoding": {"text": {"field": "t"}}}
      ]
    }
  ]
}
